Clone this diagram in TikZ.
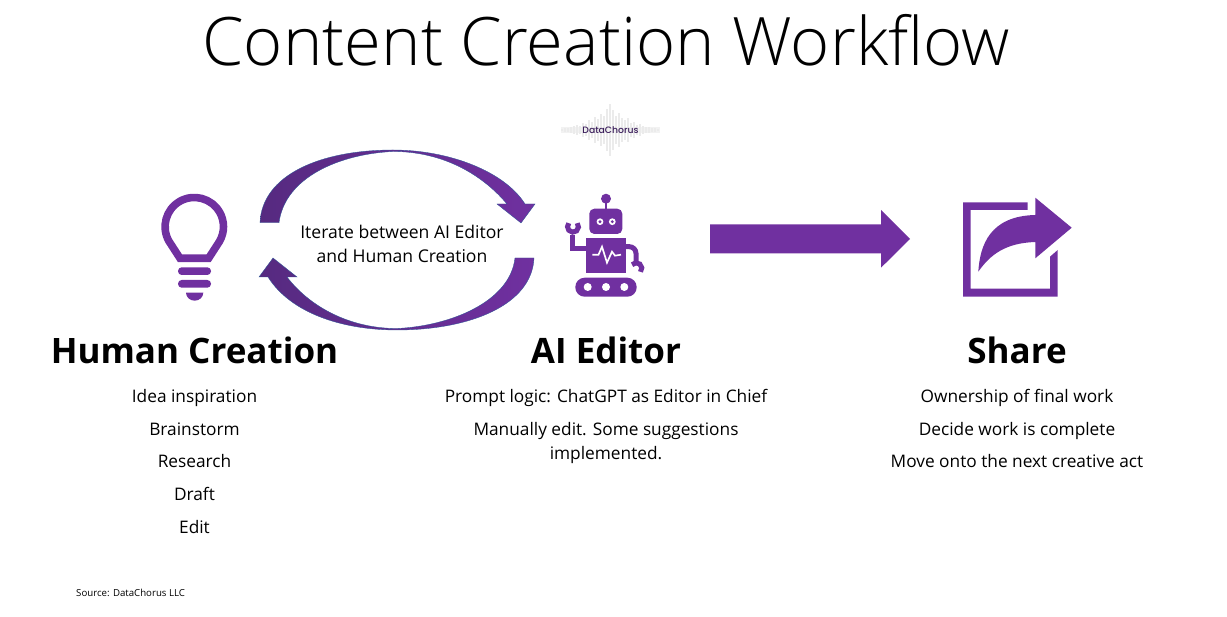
\documentclass[tikz,border=0pt]{standalone}
\usepackage{fontspec}
\setmainfont{Open Sans}
\newfontfamily\logofont{Poppins Medium}
\newfontfamily\lightfont{Open Sans Light}
\definecolor{mainpurple}{HTML}{7030A0}
\definecolor{darkpurple}{HTML}{562A80}
\definecolor{logopurple}{HTML}{3C1F5C}
\definecolor{edgeblue}{HTML}{2F5597}
\tikzset{
    heading/.style={font=\fontsize{29.9}{36}\selectfont\bfseries, text=black, inner sep=0pt, anchor=base},
    listitem/.style={font=\fontsize{14.75}{20.5}\selectfont, text=black, inner sep=0pt, align=center, anchor=base},
    iconfill/.style={fill=mainpurple, draw=none},
    iconline/.style={draw=mainpurple, line width=0.228cm},
    robotline/.style={draw=mainpurple, line width=0.15cm},
    looparrow/.style={draw=edgeblue, line width=0.3pt, shading angle=#1, left color=darkpurple, right color=mainpurple},
}
\begin{document}
\begin{tikzpicture}[x=0.03cm,y=0.03cm]
    \useasboundingbox (0,0) rectangle (1227,617);

    % title
    \node[font=\fontsize{57.05}{60}\selectfont\lightfont, inner sep=0pt] (title) at (606,577) {Content Creation Workflow};

    % logo waveform
    \fill[gray!10] (561,484) rectangle (660,490);
    \foreach \px/\h in {562/1,565/2,568/2,571/3,574/4,577/5,580/4,583/7,586/6,589/10,592/8,595/13,598/11,601/16,604/14,607/21,610/26,613/20,616/14,619/17,622/12,625/10,628/12,631/7,634/8,637/5,640/6,643/4,646/3,649/3,652/2,655/2,658/1}
        \fill[gray!16] (\px-1,487-\h) rectangle (\px+1,487+\h);
    \node[font=\fontsize{7.9}{9}\selectfont\logofont, text=logopurple, inner sep=0pt] (logo) at (610.5,487) {DataChorus};

    % light bulb
    \draw[iconline] (180,358.7) -- (169,375.7) arc[start angle=210, end angle=-30, radius=29.2] -- (208.6,358.7) -- cycle;
    \fill[iconfill, rounded corners=0.11cm] (178,342) rectangle (211,349.7);
    \fill[iconfill, rounded corners=0.11cm] (178,329.3) rectangle (211,337);
    \fill[iconfill] (186,324.3) -- (203.3,324.3) arc[start angle=0, end angle=-180, x radius=8.65, y radius=8] -- cycle;

    % loop arrows
    \path[looparrow=90] (260,394.3) .. controls (262,442) and (320,467) .. (393,467) .. controls (450,467) and (505,445) .. (525,413) -- (535,413) -- (521,394) -- (497,413) -- (507,413) .. controls (480,445) and (440,465.5) .. (393,465.5) .. controls (340,463) and (285,440) .. (279,394.3) -- cycle;
    \path[looparrow=270] (534,359) .. controls (532,312) and (470,287) .. (397,287) .. controls (340,287) and (290,305) .. (268,340) -- (259,340) -- (273,359) -- (297,340) -- (287,340) .. controls (310,310) and (350,288.5) .. (397,288.5) .. controls (450,291) and (510,315) .. (515,359) -- cycle;
    \node[font=\fontsize{15}{20.5}\selectfont, align=center, inner sep=0pt] (loop) at (402,373) {Iterate between AI Editor\\and Human Creation};

    % robot
    \fill[iconfill] (606,418.3) circle (5);
    \draw[mainpurple, line width=0.06cm] (606,418.3) -- (606,405);
    \fill[iconfill, rounded corners=0.15cm] (589.3,383) rectangle (622.3,408.3);
    \fill[white] (600,395.3) circle (3.4);
    \fill[white] (612.3,395.3) circle (3.4);
    \fill[iconfill] (600,395.3) circle (1.6);
    \fill[iconfill] (612.3,395.3) circle (1.6);
    \fill[iconfill] (585.7,343.7) rectangle (626.3,378.7);
    \draw[white, line width=0.05cm] (592.3,362.3) -- (598.5,362.3) -- (602,370.3) -- (607,354.3) -- (612,365.3) -- (615,361.3) -- (621,362.3);
    \draw[robotline] (586,368) -- (572,368) -- (572,382);
    \draw[robotline] (573,390.3) ++(40:5.5) arc[start angle=40, end angle=-220, radius=5.5];
    \draw[robotline, rounded corners=0.2cm] (626,370.3) -- (636,370.3) -- (636,354);
    \draw[robotline] (636.3,348.7) ++(140:5.5) arc[start angle=140, end angle=-40, radius=5.5];
    \fill[iconfill, rounded corners=0.28cm] (575.3,320.3) rectangle (636.7,339.3);
    \fill[white] (587.7,330) circle (4);
    \fill[white] (606,330) circle (4);
    \fill[white] (624.3,330) circle (4);

    % big arrow
    \fill[iconfill] (710,392.7) -- (881,392.7) -- (881,407) -- (910,378) -- (881,349.3) -- (881,363.7) -- (710,363.7) -- cycle;

    % share icon
    \fill[iconfill] (963,414.7) -- (1027.7,414.7) -- (1027.7,407) -- (970.7,407) -- (970.7,328.3) -- (1050,328.3) -- (1050,360.3) -- (1057.7,367) -- (1057.7,320.3) -- (963,320.3) -- cycle;
    \fill[iconfill] (1071.7,389.3) -- (1035.3,419.3) -- (1035.3,402) .. controls (990,401) and (980,372) .. (978.3,345.3) .. controls (990,362) and (1005,374) .. (1035.3,375) -- (1035.3,358.7) -- cycle;

    % headings
    \node[heading] (human) at (194.5,253.5) {Human Creation};
    \node[heading] (editor) at (606,253.5) {AI Editor};
    \node[heading] (share) at (1017,253.5) {Share};

    % human creation list
    \node[listitem] (idea) at (194.5,214.5) {Idea inspiration};
    \node[listitem] (brain) at (194.5,181.5) {Brainstorm};
    \node[listitem] (research) at (194.5,149.5) {Research};
    \node[listitem] (draft) at (194.5,116.5) {Draft};
    \node[listitem] (edit) at (194.5,83.5) {Edit};

    % editor list
    \node[listitem] (prompt) at (606,214.5) {Prompt logic: ChatGPT as Editor in Chief};
    \node[listitem] (manual) at (606,181.5) {Manually edit. Some suggestions};
    \node[listitem] (manualtwo) at (606,157.5) {implemented.};

    % share list
    \node[listitem] (owner) at (1017,214.5) {Ownership of final work};
    \node[listitem] (decide) at (1017,181.5) {Decide work is complete};
    \node[listitem] (move) at (1017,149.5) {Move onto the next creative act};

    \node[font=\fontsize{8.25}{9}\selectfont, inner sep=0pt, anchor=west] (source) at (76,24) {Source: DataChorus LLC};
\end{tikzpicture}
\end{document}
